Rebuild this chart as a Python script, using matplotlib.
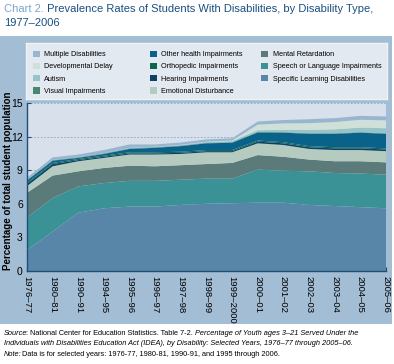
import numpy as np
import matplotlib.pyplot as plt
from matplotlib.patches import Patch
from matplotlib.legend import Legend

plt.rcParams['font.family'] = ['Liberation Sans', 'DejaVu Sans']

years = ['1976–77', '1980–81', '1990–91', '1994–95', '1995–96', '1996–97',
         '1997–98', '1998–99', '1999–2000', '2000–01', '2001–02', '2002–03',
         '2003–04', '2004–05', '2005–06']

# percent of total student population, stacked bottom to top
learning = [1.88, 3.52, 5.2, 5.6, 5.75, 5.75, 5.9, 6.0, 6.05, 6.1, 6.1, 5.9, 5.8, 5.7, 5.6]
speech = [2.9, 3.0, 2.35, 2.25, 2.3, 2.3, 2.25, 2.25, 2.2, 2.95, 2.85, 3.0, 2.95, 3.0, 3.0]
mental = [2.2, 2.0, 1.35, 1.35, 1.35, 1.3, 1.3, 1.3, 1.4, 1.3, 1.25, 1.05, 1.05, 1.1, 1.1]
emotional = [0.6, 0.83, 0.9, 0.9, 1.0, 1.05, 1.0, 1.05, 0.95, 1.05, 1.05, 0.95, 1.0, 1.0, 1.0]
hearing = [0.2, 0.2, 0.1, 0.1, 0.1, 0.1, 0.1, 0.1, 0.1, 0.15, 0.15, 0.15, 0.15, 0.15, 0.15]
orthopedic = [0.1, 0.1, 0.1, 0.1, 0.1, 0.1, 0.1, 0.1, 0.1, 0.1, 0.1, 0.1, 0.1, 0.1, 0.1]
other_health = [0.2, 0.2, 0.1, 0.15, 0.3, 0.4, 0.5, 0.6, 0.65, 0.72, 0.85, 1.1, 1.2, 1.3, 1.3]
visual = [0.05] * 15
autism = [0, 0, 0, 0.02, 0.05, 0.05, 0.05, 0.07, 0.1, 0.15, 0.2, 0.3, 0.35, 0.4, 0.45]
dev_delay = [0, 0, 0, 0, 0, 0, 0.02, 0.03, 0.05, 0.5, 0.58, 0.6, 0.65, 0.7, 0.7]
multiple = [0.2, 0.25, 0.25, 0.28, 0.3, 0.2, 0.2, 0.2, 0.2, 0.28, 0.3, 0.35, 0.35, 0.35, 0.35]

layers = [learning, speech, mental, emotional, hearing, orthopedic,
          other_health, visual, autism, dev_delay, multiple]
names = ['Specific Learning Disabilities', 'Speech or Language Impairments',
         'Mental Retardation', 'Emotional Disturbance', 'Hearing Impairments',
         'Orthopedic Impairments', 'Other health Impairments', 'Visual Impairments',
         'Autism', 'Developmental Delay', 'Multiple Disabilities']
colors = ['#5886a8', '#3a9296', '#5a7b79', '#b5cbc0', '#0d4168', '#0b6650',
          '#08628a', '#4a8772', '#96c4c8', '#cfe0d8', '#98b6d0']

W, H = 394, 364
dark = '#1d4f7a'

fig = plt.figure(figsize=(W / 100, H / 100), dpi=100)

# grey-blue panel behind chart
bg = fig.add_axes([0, 1 - 324 / H, 392 / W, (324 - 36) / H], zorder=-1)
bg.set_facecolor('#a3bdd4')
bg.set_xticks([])
bg.set_yticks([])
for s in bg.spines.values():
    s.set_visible(False)

ax = fig.add_axes([27 / W, 1 - 271 / H, 359 / W, 168 / H])
x = np.arange(len(years))
ax.stackplot(x, *layers, colors=colors, linewidth=0, zorder=2)
ax.set_facecolor('#d8e0eb')
ax.set_xlim(0, len(years) - 1)
ax.set_ylim(0, 15)
ax.set_yticks([0, 3, 6, 9, 12, 15])
ax.yaxis.grid(True, linestyle=(0, (2, 2)), color='#8aa6c4', linewidth=0.6, zorder=1)
ax.set_axisbelow(True)
ax.set_xticks(x)
ax.set_xticklabels(years, rotation=270, fontsize=6.8, va='top', ha='center')
ax.tick_params(axis='both', direction='in', color=dark, length=3, width=0.8)
ax.tick_params(axis='y', labelsize=7.5, pad=3)
for s in ['top', 'right']:
    ax.spines[s].set_visible(False)
for s in ['left', 'bottom']:
    ax.spines[s].set_color(dark)
    ax.spines[s].set_linewidth(1)
    ax.spines[s].set_zorder(3)
ax.set_ylabel('Percentage of total student population', fontsize=7.0,
              fontweight='bold')
ax.yaxis.set_label_coords(-0.040, 0.54)

# legend box, three columns placed like the original
lax = fig.add_axes([26 / W, 1 - 99 / H, 361 / W, 56 / H])
lax.set_facecolor('#e3e9f0')
lax.set_xticks([])
lax.set_yticks([])
for s in lax.spines.values():
    s.set_color('#eef2f6')
    s.set_linewidth(1)
columns = [[10, 9, 8, 7], [6, 5, 4, 3], [2, 1, 0]]
col_x = [0.019, 0.343, 0.651]
for idx, cx in zip(columns, col_x):
    handles = [Patch(facecolor=colors[i], edgecolor='none') for i in idx]
    leg = Legend(lax, handles, [names[i] for i in idx], loc='upper left',
                 bbox_to_anchor=(cx, 0.865), frameon=False, fontsize=5.2,
                 handlelength=1.0, handleheight=1.0, handletextpad=0.6,
                 labelspacing=0.62, borderpad=0, borderaxespad=0)
    lax.add_artist(leg)

# title
tfs = 8.0
t1 = fig.text(4 / W, 1 - 4 / H, 'Chart 2.', va='top', fontsize=tfs, color='#7da5c9')
ax.annotate(' Prevalence Rates of Students With Disabilities, by Disability Type,',
            xy=(1, 0), xycoords=t1, va='bottom', fontsize=tfs, color='#1b4f80',
            annotation_clip=False)
fig.text(4 / W, 1 - 18 / H, '1977–2006', va='top', fontsize=tfs, color='#1b4f80')

# source notes
fs = 5.3
s1 = fig.text(4 / W, 1 - 335 / H, 'Source', style='italic', fontsize=fs)
s2 = ax.annotate(': National Center for Education Statistics. Table 7-2. ', xy=(1, 0),
                 xycoords=s1, xytext=(-1.2, 0), textcoords='offset points',
                 va='bottom', fontsize=fs, annotation_clip=False)
ax.annotate('Percentage of Youth ages 3–21 Served Under the', xy=(1, 0),
            xycoords=s2, va='bottom', fontsize=fs, style='italic', annotation_clip=False)
fig.text(4 / W, 1 - 345 / H, 'Individuals with Disabilities Education Act (IDEA), '
         'by Disability: Selected Years, 1976–77 through 2005–06.',
         style='italic', fontsize=fs)
n1 = fig.text(4 / W, 1 - 356 / H, 'Note:', style='italic', fontsize=fs)
ax.annotate(' Data is for selected years: 1976-77, 1980-81, 1990-91, and 1995 through 2006.',
            xy=(1, 0), xycoords=n1, xytext=(-1.2, 0), textcoords='offset points',
            va='bottom', fontsize=fs, annotation_clip=False)

fig.savefig('out.png', dpi=100)
